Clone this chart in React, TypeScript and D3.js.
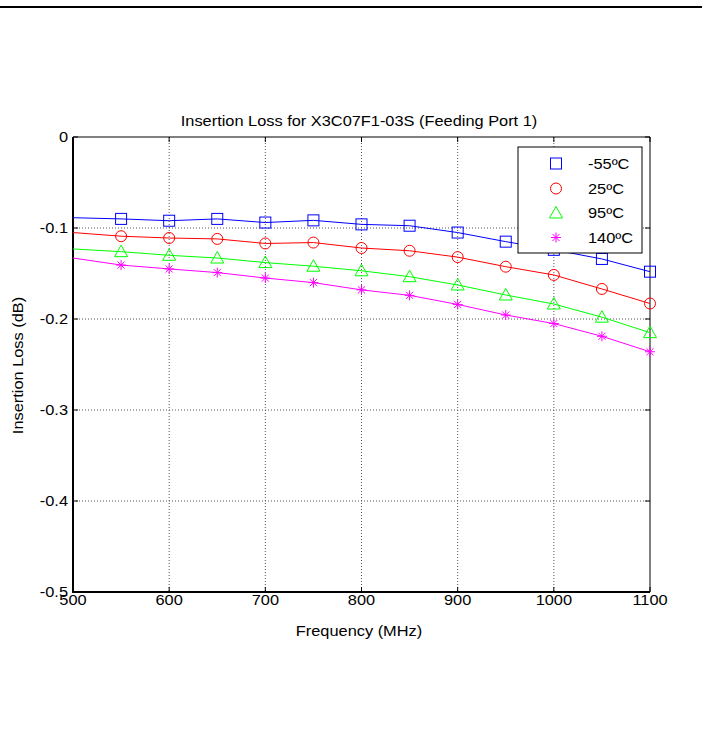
import React from "react";
import * as d3 from "d3";

const freqs = [500, 550, 600, 650, 700, 750, 800, 850, 900, 950, 1000, 1050, 1100];
const lossM55 = [-0.0887, -0.090, -0.092, -0.090, -0.094, -0.0916, -0.096, -0.0975, -0.105, -0.115, -0.124, -0.134, -0.148];
const loss25 = [-0.105, -0.109, -0.111, -0.112, -0.117, -0.116, -0.122, -0.125, -0.132, -0.1425, -0.1516, -0.167, -0.183];
const loss95 = [-0.123, -0.126, -0.130, -0.133, -0.138, -0.142, -0.147, -0.1535, -0.1626, -0.1736, -0.1835, -0.198, -0.215];
const loss140 = [-0.133, -0.1407, -0.145, -0.149, -0.155, -0.160, -0.168, -0.174, -0.184, -0.1956, -0.205, -0.219, -0.236];
const seriesNames = ["-55ºC", "25ºC", "95ºC", "140ºC"];
const seriesColors = ["#0000ff", "#ff0000", "#00ff00", "#ff00ff"];
const markerKinds = ["square", "circle", "triangle", "star"];
const xTicks = [500, 600, 700, 800, 900, 1000, 1100];
const yTicks = [0, -0.1, -0.2, -0.3, -0.4, -0.5];
const titleText = "Insertion Loss for X3C07F1-03S (Feeding Port 1)";
const xLabel = "Frequency (MHz)";
const yLabel = "Insertion Loss (dB)";

const L = 73, R = 650, T = 137, B = 592;
const FONT = "Arial, 'Liberation Sans', Helvetica, sans-serif";
const SX = 1.17;

function Marker({ kind, x, y, color }: { kind: string; x: number; y: number; color: string }) {
  if (kind === "square") return <rect x={x - 5.5} y={y - 5.5} width={11} height={11} fill="none" stroke={color} strokeWidth={1} />;
  if (kind === "circle") return <circle cx={x} cy={y} r={5.5} fill="none" stroke={color} strokeWidth={1} />;
  if (kind === "triangle")
    return <path d={`M${x},${y - 6.5}L${x + 6.5},${y + 5}L${x - 6.5},${y + 5}Z`} fill="none" stroke={color} strokeWidth={1} />;
  const r = 5;
  const segs = [0, 45, 90, 135].map((a) => {
    const rad = (a * Math.PI) / 180;
    return `M${x - r * Math.cos(rad)},${y - r * Math.sin(rad)}L${x + r * Math.cos(rad)},${y + r * Math.sin(rad)}`;
  });
  return <path d={segs.join("")} fill="none" stroke={color} strokeWidth={1} />;
}

function Txt({ x, y, anchor, children, rotate = 0, size = 14 }: any) {
  return (
    <text
      transform={`translate(${x},${y}) rotate(${rotate}) scale(${SX},1)`}
      textAnchor={anchor}
      fontFamily={FONT}
      fontSize={size}
      fill="#000"
    >
      {children}
    </text>
  );
}

export default function App() {
  const x = d3.scaleLinear().domain([500, 1100]).range([L, R]);
  const y = d3.scaleLinear().domain([-0.5, 0]).range([B, T]);
  const all = [lossM55, loss25, loss95, loss140];
  const line = d3
    .line<number>()
    .x((_, i) => x(freqs[i]))
    .y((d) => y(d));

  const legX = 518, legY = 147, legW = 124, legH = 106;
  const rowY = [163.5, 188.5, 213, 237.5];

  return (
    <svg width={702} height={740} style={{ position: "absolute", left: 0, top: 0, background: "#fff" }}>
      <rect x={0} y={0} width={702} height={740} fill="#fff" />
      <line x1={0} x2={702} y1={7} y2={7} stroke="#000" strokeWidth={2} />

      {/* grid */}
      {xTicks.slice(1, -1).map((t) => (
        <line key={"gx" + t} x1={x(t)} x2={x(t)} y1={T} y2={B} stroke="#555" strokeWidth={1} strokeDasharray="1,2" />
      ))}
      {yTicks.slice(1, -1).map((t) => (
        <line key={"gy" + t} x1={L} x2={R} y1={y(t)} y2={y(t)} stroke="#555" strokeWidth={1} strokeDasharray="1,2" />
      ))}

      {/* axes box */}
      <line x1={L} x2={R} y1={T} y2={T} stroke="#000" strokeWidth={1} />
      <line x1={R} x2={R} y1={T} y2={B} stroke="#000" strokeWidth={1} />
      <line x1={L} x2={L} y1={T} y2={B + 1} stroke="#000" strokeWidth={2} />
      <line x1={L - 1} x2={R} y1={B} y2={B} stroke="#000" strokeWidth={2} />

      {/* ticks */}
      {xTicks.map((t) => (
        <g key={"tx" + t}>
          <line x1={x(t)} x2={x(t)} y1={B} y2={B - 5} stroke="#000" strokeWidth={1} />
          <line x1={x(t)} x2={x(t)} y1={T} y2={T + 5} stroke="#000" strokeWidth={1} />
          <Txt x={x(t)} y={605} anchor="middle">{String(t)}</Txt>
        </g>
      ))}
      {yTicks.map((t) => (
        <g key={"ty" + t}>
          <line x1={L} x2={L + 5} y1={y(t)} y2={y(t)} stroke="#000" strokeWidth={1} />
          <line x1={R} x2={R - 5} y1={y(t)} y2={y(t)} stroke="#000" strokeWidth={1} />
          <Txt x={68} y={y(t) + 5} anchor="end">{t === 0 ? "0" : String(t)}</Txt>
        </g>
      ))}

      {/* series */}
      {all.map((s, si) => (
        <g key={"s" + si}>
          <path d={line(s) || ""} fill="none" stroke={seriesColors[si]} strokeWidth={1} />
          {s.map((v, i) =>
            i === 0 ? null : <Marker key={i} kind={markerKinds[si]} x={x(freqs[i])} y={y(v)} color={seriesColors[si]} />
          )}
        </g>
      ))}

      {/* legend */}
      <rect x={legX} y={legY} width={legW} height={legH} fill="#fff" stroke="#000" strokeWidth={1} />
      {seriesNames.map((n, i) => (
        <g key={"l" + i}>
          <Marker kind={markerKinds[i]} x={556} y={rowY[i]} color={seriesColors[i]} />
          <Txt x={588} y={rowY[i] + 5} anchor="start">{n}</Txt>
        </g>
      ))}

      {/* labels */}
      <Txt x={359} y={126} anchor="middle">{titleText}</Txt>
      <Txt x={359} y={636} anchor="middle">{xLabel}</Txt>
      <Txt x={23} y={365.5} anchor="middle" rotate={-90}>{yLabel}</Txt>
    </svg>
  );
}
